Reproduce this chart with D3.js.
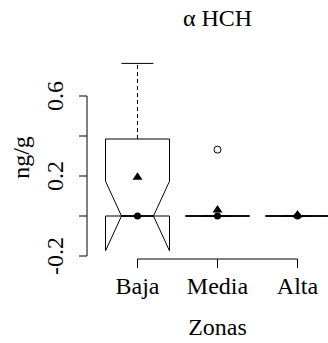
<!DOCTYPE html>
<html><head><meta charset="utf-8">
<script src="https://cdn.jsdelivr.net/npm/d3@7"></script>
<style>
html,body{margin:0;padding:0;background:#fff;}
svg text{font-family:"Liberation Serif","Times New Roman",serif;fill:#000;}
</style></head>
<body>
<svg id="chart" width="328" height="343"></svg>
<script>
// ---- data ----
const categories = ["Baja", "Media", "Alta"];
const whiskerLow = [0, 0, 0];
const q1 = [0, 0, 0];
const median = [0, 0, 0];
const q3 = [0.385, 0, 0];
const whiskerHigh = [0.763, 0, 0];
const notchHalf = [0.174, 0, 0];
const means = [0.196, 0.032, 0.008];
const outlierZone = ["Media"];
const outlierValue = [0.332];
const yTicks = [-0.2, 0, 0.2, 0.4, 0.6];
const yTickLabels = ["-0.2", "", "0.2", "", "0.6"];
const title = "\u03B1 HCH";
const xTitle = "Zonas";
const yTitle = "ng/g";

// ---- layout ----
const svg = d3.select("#chart");
const x = d3.scalePoint().domain(categories).range([137.5, 297.5]);
const y = d3.scaleLinear().domain([-0.2, 0.6]).range([256, 96]);
const boxW = 64, notchInset = 16, capW = 32;
const FS = 24;

// boxes
categories.forEach((c, i) => {
  const cx = x(c), xl = cx - boxW / 2, xr = cx + boxW / 2;
  const xml = xl + notchInset, xmr = xr - notchInset;
  const nlo = median[i] - notchHalf[i], nhi = median[i] + notchHalf[i];
  const pts = [
    [xl, y(q1[i])], [xl, y(nlo)], [xml, y(median[i])], [xl, y(nhi)], [xl, y(q3[i])],
    [xr, y(q3[i])], [xr, y(nhi)], [xmr, y(median[i])], [xr, y(nlo)], [xr, y(q1[i])]
  ];
  if (whiskerHigh[i] > q3[i]) {
    svg.append("line").attr("x1", cx).attr("x2", cx)
      .attr("y1", y(q3[i])).attr("y2", y(whiskerHigh[i]))
      .attr("stroke", "#000").attr("stroke-width", 1).attr("stroke-dasharray", "4,3");
  }
  if (whiskerLow[i] < q1[i]) {
    svg.append("line").attr("x1", cx).attr("x2", cx)
      .attr("y1", y(q1[i])).attr("y2", y(whiskerLow[i]))
      .attr("stroke", "#000").attr("stroke-width", 1).attr("stroke-dasharray", "4,3");
  }
  svg.append("line").attr("x1", cx - capW / 2).attr("x2", cx + capW / 2)
    .attr("y1", y(whiskerHigh[i])).attr("y2", y(whiskerHigh[i]))
    .attr("stroke", "#000").attr("stroke-width", 1);
  svg.append("line").attr("x1", cx - capW / 2).attr("x2", cx + capW / 2)
    .attr("y1", y(whiskerLow[i])).attr("y2", y(whiskerLow[i]))
    .attr("stroke", "#000").attr("stroke-width", 1);
  svg.append("polygon").attr("points", pts.map(p => p.join(",")).join(" "))
    .attr("fill", "none").attr("stroke", "#000").attr("stroke-width", 1);
  svg.append("line").attr("x1", xml).attr("x2", xmr)
    .attr("y1", y(median[i])).attr("y2", y(median[i]))
    .attr("stroke", "#000").attr("stroke-width", 1.3);
  svg.append("circle").attr("cx", cx).attr("cy", y(median[i])).attr("r", 3.5).attr("fill", "#000");
  const my = y(means[i]);
  svg.append("path")
    .attr("d", `M${cx},${my - 4.5} L${cx + 5},${my + 3} L${cx - 5},${my + 3} Z`)
    .attr("fill", "#000");
});

// outliers
outlierZone.forEach((z, k) => {
  svg.append("circle").attr("cx", x(z)).attr("cy", y(outlierValue[k])).attr("r", 3.5)
    .attr("fill", "none").attr("stroke", "#000").attr("stroke-width", 1);
});

// y axis
const axisX = 87;
svg.append("line").attr("x1", axisX).attr("x2", axisX)
  .attr("y1", y(yTicks[0])).attr("y2", y(yTicks[yTicks.length - 1]))
  .attr("stroke", "#000").attr("stroke-width", 1);
yTicks.forEach((t, i) => {
  svg.append("line").attr("x1", axisX - 8).attr("x2", axisX)
    .attr("y1", y(t)).attr("y2", y(t)).attr("stroke", "#000").attr("stroke-width", 1);
  if (yTickLabels[i]) {
    svg.append("text").attr("transform", `translate(63,${y(t)}) rotate(-90)`)
      .attr("text-anchor", "middle").attr("font-size", FS).text(yTickLabels[i]);
  }
});

// x axis
const axisY = 259;
svg.append("line").attr("x1", x(categories[0])).attr("x2", x(categories[categories.length - 1]))
  .attr("y1", axisY).attr("y2", axisY).attr("stroke", "#000").attr("stroke-width", 1);
categories.forEach(c => {
  svg.append("line").attr("x1", x(c)).attr("x2", x(c)).attr("y1", axisY).attr("y2", axisY + 9)
    .attr("stroke", "#000").attr("stroke-width", 1);
  svg.append("text").attr("x", x(c)).attr("y", 294).attr("text-anchor", "middle")
    .attr("font-size", FS).text(c);
});

// titles
svg.append("text").attr("x", 217.5).attr("y", 335).attr("text-anchor", "middle")
  .attr("font-size", FS).text(xTitle);
svg.append("text").attr("transform", "translate(29,157.5) rotate(-90)")
  .attr("text-anchor", "middle").attr("font-size", FS).text(yTitle);
svg.append("text").attr("x", 217.5).attr("y", 26).attr("text-anchor", "middle")
  .attr("font-size", FS).text(title);
</script>
</body></html>
